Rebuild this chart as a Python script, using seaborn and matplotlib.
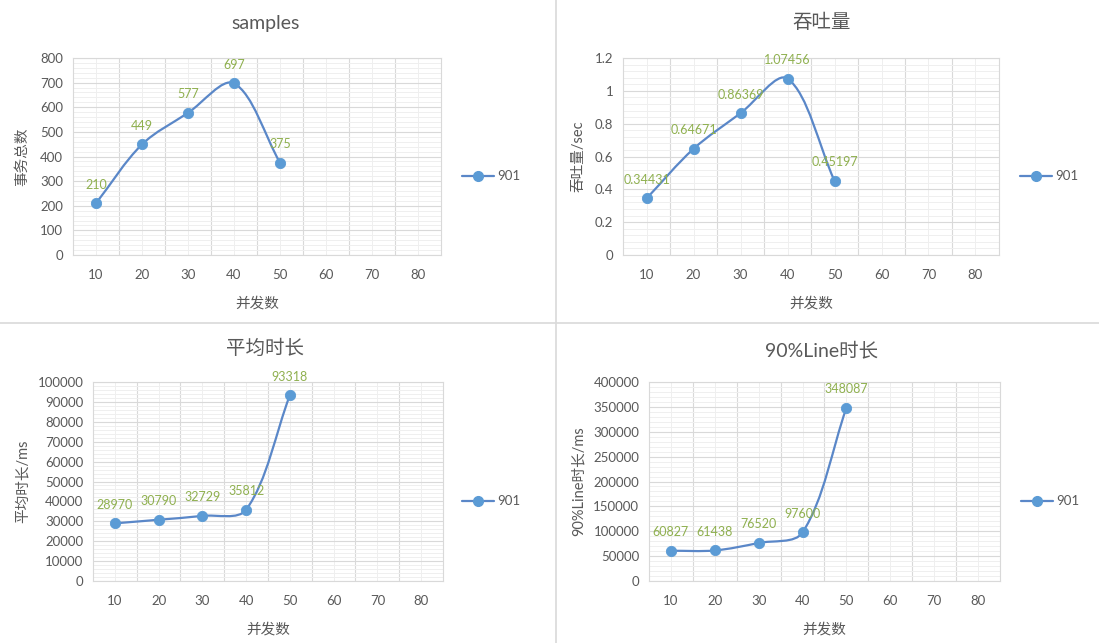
import numpy as np
import matplotlib.pyplot as plt
import matplotlib.ticker as mticker
from matplotlib.path import Path
from matplotlib.patches import PathPatch
from matplotlib.lines import Line2D
import seaborn as sns

# data
concurrency = [10, 20, 30, 40, 50]
x_categories = [10, 20, 30, 40, 50, 60, 70, 80]
samples = [210, 449, 577, 697, 375]
throughput = [0.34431, 0.64671, 0.86369, 1.07456, 0.45197]
avg_time = [28970, 30790, 32729, 35812, 93318]
line90_time = [60827, 61438, 76520, 97600, 348087]
series_name = '901'

sns.set_theme(style='white')
plt.rcParams['font.family'] = ['Lato', 'Noto Sans CJK SC', 'DejaVu Sans']

line_color = '#5A87C8'
marker_color = '#5B9BD5'
label_color = '#8FB04F'
text_color = '#595959'
major_grid = '#D9D9D9'
minor_grid = '#EFEFEF'


def smooth_path(ax, xs, ys):
    # Excel style smoothed line, built in screen space: each tangent is split
    # between its two segments in proportion to their lengths
    pts = ax.transData.transform(np.column_stack([xs, ys]).astype(float))
    n = len(pts)
    d = np.linalg.norm(np.diff(pts, axis=0), axis=1)
    verts = [pts[0]]
    codes = [Path.MOVETO]
    for i in range(n - 1):
        p1, p2 = pts[i], pts[i + 1]
        p0 = pts[i - 1] if i > 0 else p1
        p3 = pts[i + 2] if i + 2 < n else p2
        d_prev = d[i - 1] if i > 0 else 0.0
        d_next = d[i + 1] if i + 2 < n else 0.0
        c1 = p1 + (p2 - p0) * d[i] / (3 * (d_prev + d[i]))
        c2 = p2 - (p3 - p1) * d[i] / (3 * (d[i] + d_next))
        verts += [c1, c2, p2]
        codes += [Path.CURVE4] * 3
    verts = ax.transData.inverted().transform(np.array(verts))
    return Path(verts, codes)


def draw_panel(ax, values, ystep, ymax, ylabel, ylabel_x, legend_x):
    ax.set_xlim(5, 85)
    ax.set_ylim(0, ymax)

    ax.add_patch(PathPatch(smooth_path(ax, concurrency, values), fill=False,
                           edgecolor=line_color, lw=1.6, zorder=3))
    sns.scatterplot(x=concurrency, y=values, ax=ax, color=marker_color, s=55,
                    edgecolor=marker_color, zorder=4, legend=False)
    for x, v in zip(concurrency, values):
        ax.annotate(str(v), (x, v), xytext=(0, 9), textcoords='offset points',
                    ha='center', va='bottom', fontsize=9, color=label_color, zorder=5)

    ax.set_xlim(5, 85)
    ax.set_ylim(0, ymax)
    ax.set_xticks(x_categories)
    ax.set_xticks(np.arange(15, 80, 10), minor=True)
    ax.set_yticks(np.arange(0, ymax + ystep / 2, ystep))
    ax.yaxis.set_minor_locator(mticker.MultipleLocator(ystep / 5))
    ax.yaxis.set_major_formatter(mticker.FuncFormatter(lambda v, p: '{:g}'.format(round(v, 6))))
    ax.grid(which='major', axis='y', color=major_grid, lw=0.8)
    ax.grid(which='minor', axis='y', color=minor_grid, lw=0.7)
    ax.grid(which='minor', axis='x', color=major_grid, lw=0.8)
    ax.grid(which='major', axis='x', color=minor_grid, lw=0.7)
    ax.set_axisbelow(True)
    for s in ax.spines.values():
        s.set_color(major_grid)
        s.set_linewidth(0.8)
    ax.tick_params(which='both', length=0, labelsize=9.5, colors=text_color)
    ax.tick_params(axis='x', pad=10)
    ax.tick_params(axis='y', pad=7)

    ax.set_xlabel('并发数', fontsize=10.5, color=text_color)
    ax.xaxis.set_label_coords(0.5, -0.21)
    ax.set_ylabel(ylabel, fontsize=10.5, color=text_color)
    ax.yaxis.set_label_coords(ylabel_x, 0.5)

    handle = Line2D([], [], color=line_color, lw=1.6, marker='o', markersize=7,
                    markerfacecolor=marker_color, markeredgecolor=marker_color)
    ax.legend(handles=[handle], labels=[series_name], loc='center left',
              bbox_to_anchor=(legend_x, 0.4), frameon=False, handlelength=2.4,
              handletextpad=0.3, borderaxespad=0, borderpad=0, fontsize=9.5,
              labelcolor=text_color)


fig = plt.figure(figsize=(10.99, 6.43), dpi=100)
fig.patch.set_facecolor('white')

ax1 = fig.add_axes([0.0664, 0.6034, 0.3349, 0.3064])
ax2 = fig.add_axes([0.5669, 0.6034, 0.3421, 0.3064])
ax3 = fig.add_axes([0.0846, 0.0964, 0.3185, 0.3095])
ax4 = fig.add_axes([0.5905, 0.0964, 0.3194, 0.3095])

draw_panel(ax1, samples, 100, 800, '事务总数', -0.12, 1.057)
draw_panel(ax2, throughput, 0.2, 1.2, '吞吐量/sec', -0.10, 1.056)
draw_panel(ax3, avg_time, 10000, 100000, '平均时长/ms', -0.18, 1.054)
draw_panel(ax4, line90_time, 50000, 400000, '90%Line时长/ms', -0.18, 1.06)

fig.text(266 / 1099, 1 - 24 / 643, 'samples', ha='center', va='center', fontsize=14, color=text_color)
fig.text(822 / 1099, 1 - 22 / 643, '吞吐量', ha='center', va='center', fontsize=14, color=text_color)
fig.text(265 / 1099, 1 - 348 / 643, '平均时长', ha='center', va='center', fontsize=14, color=text_color)
fig.text(822 / 1099, 1 - 350 / 643, '90%Line时长', ha='center', va='center', fontsize=14, color=text_color)

# light separators between the four charts
fig.add_artist(Line2D([556 / 1099, 556 / 1099], [0, 1], color=major_grid, lw=1.2))
fig.add_artist(Line2D([0, 1], [1 - 323 / 643, 1 - 323 / 643], color=major_grid, lw=1.2))

fig.savefig('out.png', dpi=100)
